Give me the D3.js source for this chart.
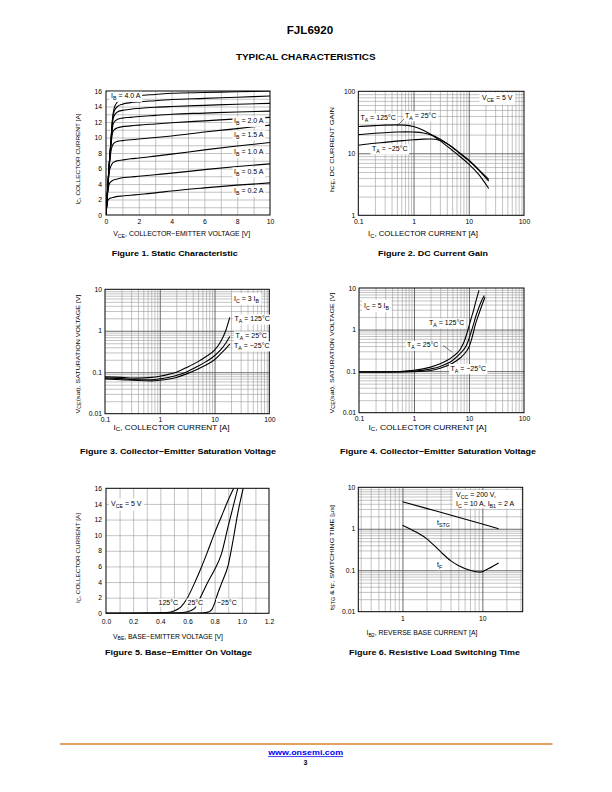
<!DOCTYPE html>
<html><head><meta charset="utf-8">
<script src="https://cdn.jsdelivr.net/npm/d3@7"></script>
<style>body{margin:0;background:#fff}svg{display:block}</style>
</head><body><svg id="c" width="612" height="792"></svg>
<script>
// ---------------- DATA ----------------
// Figure 1 – Static characteristic (IC vs VCE for several IB)
const fig1Vce = [0,0.05,0.1,0.15,0.2,0.3,0.4,0.5,0.7,1,1.5,2,3,4,6,8,10];
const fig1Ib40 = [0,1.6,3.3,5.0,6.6,9.6,12.5,13.8,14.6,15.0,15.25,15.4,15.55,15.7,15.8,15.9,16.0];
const fig1Ib35 = [0,1.6,3.3,5.0,6.6,9.5,12.3,13.4,14.0,14.3,14.5,14.6,14.75,14.9,15.05,15.2,15.35];
const fig1Ib30 = [0,1.6,3.3,5.0,6.6,9.4,12.0,12.8,13.3,13.5,13.65,13.75,13.9,14.0,14.15,14.3,14.4];
const fig1Ib25 = [0,1.6,3.3,5.0,6.6,9.3,11.4,12.0,12.35,12.5,12.6,12.7,12.85,13.0,13.15,13.3,13.4];
const fig1Ib20 = [0,1.6,3.3,5.0,6.6,9.0,10.6,11.0,11.25,11.4,11.5,11.6,11.75,11.9,12.15,12.4,12.6];
const fig1Ib15 = [0,1.6,3.2,4.8,6.2,8.2,9.0,9.3,9.5,9.6,9.7,9.8,10.0,10.2,10.7,11.15,11.6];
const fig1Ib10 = [0,1.6,3.2,4.6,5.6,6.3,6.7,6.85,7.0,7.1,7.25,7.35,7.6,7.85,8.4,8.9,9.35];
const fig1Ib05 = [0,1.5,2.8,3.6,4.0,4.3,4.45,4.55,4.65,4.8,4.9,5.0,5.2,5.4,5.85,6.25,6.6];
const fig1Ib02 = [0,1.2,1.8,2.0,2.1,2.2,2.25,2.3,2.4,2.45,2.55,2.65,2.85,3.1,3.5,3.85,4.15];
const fig1XTicks = [0,2,4,6,8,10];
const fig1YTicks = [0,2,4,6,8,10,12,14,16];

// Figure 2 – DC current gain
const fig2Ic = [0.1,0.2,0.3,0.5,0.7,1,1.5,2,3,5,7,10,15,23];
const fig2H125 = [27,28,28.5,28.7,28.5,27,23.5,20.5,16,11.2,8.8,6.7,4.6,2.7];
const fig2H25  = [20,21,21.5,22,22.2,22,21.3,20,17,12.5,9.8,7.6,5.4,3.55];
const fig2Hm25 = [13.5,14.5,15,15.7,16.1,16.5,16.9,17,16.2,12.7,10,7.8,5.5,3.8];
const fig2XTicks = [0.1,1,10,100];
const fig2YTicks = [1,10,100];

// Figure 3 – VCE(sat), IC = 3 IB
const fig3Ic = [0.1,0.2,0.4,0.7,1,1.5,2,3,5,7,10,13,16,19];
const fig3V125 = [0.078,0.075,0.072,0.075,0.08,0.09,0.1,0.128,0.18,0.24,0.34,0.55,1.0,2.1];
const fig3V25  = [0.073,0.07,0.066,0.066,0.069,0.076,0.083,0.1,0.14,0.18,0.25,0.35,0.5,0.73];
const fig3Vm25 = [0.069,0.066,0.063,0.062,0.064,0.069,0.075,0.09,0.12,0.15,0.2,0.28,0.37,0.48];
const satXTicks = [0.1,1,10,100];
const satYTicks = [0.01,0.1,1,10];

// Figure 4 – VCE(sat), IC = 5 IB
const fig4Ic125 = [0.1,0.3,1,2,3,5,7,8,9,10,11,12,13,15.2];
const fig4V125  = [0.095,0.095,0.105,0.125,0.15,0.22,0.34,0.48,0.75,1.2,1.9,2.8,4.2,8.8];
const fig4Ic25  = [0.1,0.3,1,2,3,5,7,9,10,11,12,13,15,17,19];
const fig4V25   = [0.095,0.095,0.1,0.113,0.13,0.18,0.27,0.42,0.6,0.9,1.3,1.9,3.3,5.0,6.6];
const fig4Icm25 = [0.1,0.3,1,2,3,5,7,9,10,11,12,13,15,17,19.5];
const fig4Vm25  = [0.095,0.095,0.097,0.104,0.117,0.155,0.21,0.3,0.38,0.55,0.85,1.3,2.3,3.7,6.0];

// Figure 5 – Base-emitter on voltage
const fig5Vbe125 = [0,0.3,0.4,0.45,0.5,0.55,0.6,0.65,0.7,0.75,0.8,0.85,0.9,0.94];
const fig5Ic125  = [0,0.02,0.05,0.1,0.3,0.8,2.0,3.8,5.8,8,10.3,12.4,14.5,16];
const fig5Vbe25  = [0,0.4,0.55,0.6,0.65,0.7,0.75,0.8,0.85,0.9,0.95,0.97];
const fig5Ic25   = [0,0.02,0.08,0.2,0.6,2.2,4,5.6,7.6,11.2,14.6,16];
const fig5Vbem25 = [0,0.6,0.72,0.76,0.78,0.8,0.82,0.85,0.9,0.94,0.97,1.01];
const fig5Icm25  = [0,0.02,0.08,0.2,0.5,1.3,2.4,3.8,6.2,9.8,12.8,16];
const fig5XTicks = [0,0.2,0.4,0.6,0.8,1.0,1.2];
const fig5YTicks = [0,2,4,6,8,10,12,14,16];

// Figure 6 – Resistive load switching time
const fig6IbStg = [1,2,3,5,10,16];
const fig6Tstg  = [4.5,3.1,2.5,1.9,1.3,1.0];
const fig6IbF   = [1,1.5,2,3,4,5,7,9.5,12,16];
const fig6Tf    = [1.22,0.82,0.58,0.28,0.17,0.13,0.1,0.09,0.11,0.15];
const fig6XTicks = [1,10];
const fig6YTicks = [0.01,0.1,1,10];

// ---------------- DRAWING ----------------
const FF = '"Liberation Sans", Arial, Helvetica, sans-serif';
const svg = d3.select('#c');
const GRID = '#9a9a9a', MAJOR = '#5a5a5a';
const LBL = 7;

function rich(parent, x, y, parts, o) {
  const size = o.size || 6;
  const t = parent.append('text').attr('x', x).attr('y', y)
    .attr('font-size', size).attr('font-family', FF)
    .attr('text-anchor', o.anchor || 'start').attr('fill', o.fill || '#000');
  if (o.bold) t.attr('font-weight', 'bold');
  if (o.rotate) t.attr('transform', `rotate(-90,${x},${y})`);
  if (o.len) t.attr('textLength', o.len).attr('lengthAdjust', 'spacingAndGlyphs');
  let down = false;
  parts.forEach(p => {
    if (typeof p === 'string') {
      const s = t.append('tspan').text(p);
      if (down) { s.attr('dy', -size * 0.3); down = false; }
    } else {
      t.append('tspan').text(p.s).attr('font-size', size * 0.75).attr('dy', size * 0.3);
      down = true;
    }
  });
  return t;
}
function label(parent, x, y, parts, o) {
  const g = parent.append('g');
  const t = rich(g, x, y, parts, o);
  const b = t.node().getBBox();
  const px = o.padX !== undefined ? o.padX : 1.5, py = o.padY !== undefined ? o.padY : 0.5;
  g.insert('rect', 'text').attr('x', b.x - px).attr('y', b.y - py)
    .attr('width', b.width + 2 * px).attr('height', b.height + 2 * py).attr('fill', '#fff');
  return g;
}
function logMinor(lo, hi) {
  const out = [];
  for (let e = Math.floor(Math.log10(lo)); e <= Math.ceil(Math.log10(hi)); e++)
    for (let m = 2; m <= 9; m++) { const v = m * Math.pow(10, e); if (v > lo * 1.0001 && v < hi * 0.9999) out.push(v); }
  return out;
}
function logMajor(lo, hi) {
  const out = [];
  for (let e = Math.ceil(Math.log10(lo) - 1e-9); e <= Math.floor(Math.log10(hi) + 1e-9); e++) {
    const v = Math.pow(10, e); if (v > lo * 1.0001 && v < hi * 0.9999) out.push(v);
  }
  return out;
}
let clipN = 0;
function chart(c) {
  const g = svg.append('g');
  const x = c.x, y = c.y;
  const [L, R] = x.range(), [B, T] = y.range();
  const grid = (vals, col, w, vertical) => {
    if (!vals.length) return;
    const ax = vertical
      ? d3.axisBottom(x).tickValues(vals).tickSize(-(B - T)).tickFormat('')
      : d3.axisLeft(y).tickValues(vals).tickSize(-(R - L)).tickFormat('');
    const gg = g.append('g').attr('transform', vertical ? `translate(0,${B})` : `translate(${L},0)`).call(ax);
    gg.select('.domain').remove();
    gg.selectAll('line').attr('stroke', col).attr('stroke-width', w);
  };
  grid(c.xMinor, GRID, 0.6, true);
  grid(c.yMinor, GRID, 0.6, false);
  grid(c.xMajor || [], MAJOR, 0.9, true);
  grid(c.yMajor || [], MAJOR, 0.9, false);
  g.append('rect').attr('x', L).attr('y', T).attr('width', R - L).attr('height', B - T)
    .attr('fill', 'none').attr('stroke', '#000').attr('stroke-width', 1);
  const axx = g.append('g').attr('transform', `translate(0,${B})`)
    .call(d3.axisBottom(x).tickValues(c.xTicks).tickSize(0).tickPadding(c.xPad).tickFormat(c.xFmt));
  const axy = g.append('g').attr('transform', `translate(${L},0)`)
    .call(d3.axisLeft(y).tickValues(c.yTicks).tickSize(0).tickPadding(c.yPad).tickFormat(c.yFmt));
  [axx, axy].forEach(a => {
    a.select('.domain').remove();
    a.selectAll('text').attr('font-size', 6.8).attr('font-family', FF).attr('fill', '#000');
  });
  const id = 'clip' + (clipN++);
  g.append('clipPath').attr('id', id).append('rect').attr('x', L).attr('y', T).attr('width', R - L).attr('height', B - T);
  const line = d3.line().x(d => x(d[0])).y(d => y(d[1])).curve(d3.curveMonotoneX);
  c.series.forEach(s => {
    g.append('path').datum(d3.zip(s[0], s[1])).attr('clip-path', `url(#${id})`)
      .attr('d', line).attr('fill', 'none').attr('stroke', '#000').attr('stroke-width', 1.1);
  });
  rich(g, c.xt[0], c.xt[1], c.xTitle, { size: 6.6, anchor: 'middle', len: c.xt[2] });
  rich(g, c.yt[0], c.yt[1], c.yTitle, { size: 6.2, anchor: 'middle', rotate: true, len: c.yt[2] });
  return g;
}
const fmtG = d => String(d);
const fmt1 = d => d.toFixed(1);

// Figure 1
{
  const x = d3.scaleLinear().domain([0, 10]).range([106, 270]);
  const y = d3.scaleLinear().domain([0, 16]).range([215, 91]);
  const g = chart({
    x, y, xMinor: d3.range(1, 10), yMinor: d3.range(1, 16),
    xTicks: fig1XTicks, yTicks: fig1YTicks, xPad: 4, yPad: 4, xFmt: fmtG, yFmt: fmtG,
    series: [fig1Ib40, fig1Ib35, fig1Ib30, fig1Ib25, fig1Ib20, fig1Ib15, fig1Ib10, fig1Ib05, fig1Ib02].map(s => [fig1Vce, s]),
    xTitle: ['V', { s: 'CE' }, ', COLLECTOR−EMITTER VOLTAGE [V]'], xt: [181.7, 236, 137],
    yTitle: ['I', { s: 'C' }, ', COLLECTOR CURRENT [A]'], yt: [79.5, 159, 91]
  });
  label(g, 111, 98.3, ['I', { s: 'B' }, ' = 4.0 A'], { size: LBL });
  label(g, 234, 123.3, ['I', { s: 'B' }, ' = 2.0 A'], { size: LBL });
  label(g, 234, 136.8, ['I', { s: 'B' }, ' = 1.5 A'], { size: LBL });
  label(g, 234, 154, ['I', { s: 'B' }, ' = 1.0 A'], { size: LBL });
  label(g, 234, 174, ['I', { s: 'B' }, ' = 0.5 A'], { size: LBL });
  label(g, 234, 193.3, ['I', { s: 'B' }, ' = 0.2 A'], { size: LBL });
}
// Figure 2
{
  const x = d3.scaleLog().domain([0.1, 100]).range([358.3, 524]);
  const y = d3.scaleLog().domain([1, 100]).range([215.3, 91.3]);
  const g = chart({
    x, y, xMinor: logMinor(0.1, 100), yMinor: logMinor(1, 100), xMajor: logMajor(0.1, 100), yMajor: logMajor(1, 100),
    xTicks: fig2XTicks, yTicks: fig2YTicks, xPad: 4, yPad: 3, xFmt: fmtG, yFmt: fmtG,
    series: [[fig2Ic, fig2H125], [fig2Ic, fig2H25], [fig2Ic, fig2Hm25]],
    xTitle: ['I', { s: 'C' }, ', COLLECTOR CURRENT [A]'], xt: [423, 236, 110],
    yTitle: ['h', { s: 'FE' }, ', DC CURRENT GAIN'], yt: [333.5, 149.5, 85]
  });
  label(g, 482, 100.3, ['V', { s: 'CE' }, ' = 5 V'], { size: LBL, padX: 2.5, padY: 1.5 });
  label(g, 360.5, 120, ['T', { s: 'A' }, ' = 125°C'], { size: LBL });
  label(g, 405, 117.8, ['T', { s: 'A' }, ' = 25°C'], { size: LBL });
  label(g, 372, 151, ['T', { s: 'A' }, ' = −25°C'], { size: LBL });
  g.append('line').attr('x1', 404).attr('y1', 119).attr('x2', 397).attr('y2', 126).attr('stroke', '#000').attr('stroke-width', 0.5);
}
// Figure 3
{
  const x = d3.scaleLog().domain([0.1, 100]).range([105, 269.3]);
  const y = d3.scaleLog().domain([0.01, 10]).range([413.7, 289.3]);
  const g = chart({
    x, y, xMinor: logMinor(0.1, 100), yMinor: logMinor(0.01, 10), xMajor: logMajor(0.1, 100), yMajor: logMajor(0.01, 10),
    xTicks: satXTicks, yTicks: satYTicks, xPad: 3, yPad: 3, xFmt: fmtG, yFmt: fmtG,
    series: [[fig3Ic, fig3V125], [fig3Ic, fig3V25], [fig3Ic, fig3Vm25]],
    xTitle: ['I', { s: 'C' }, ', COLLECTOR CURRENT [A]'], xt: [171.5, 429.5, 116],
    yTitle: ['V', { s: 'CE' }, '(sat), SATURATION VOLTAGE [V]'], yt: [79.5, 354, 119]
  });
  label(g, 234, 300.5, ['I', { s: 'C' }, ' = 3 I', { s: 'B' }], { size: LBL, padX: 2, padY: 1.5 });
  label(g, 234.5, 321, ['T', { s: 'A' }, ' = 125°C'], { size: LBL });
  label(g, 235.5, 337.8, ['T', { s: 'A' }, ' = 25°C'], { size: LBL });
  label(g, 234, 347.8, ['T', { s: 'A' }, ' = −25°C'], { size: LBL });
}
// Figure 4
{
  const x = d3.scaleLog().domain([0.1, 100]).range([359, 524]);
  const y = d3.scaleLog().domain([0.01, 10]).range([412.7, 288]);
  const g = chart({
    x, y, xMinor: logMinor(0.1, 100), yMinor: logMinor(0.01, 10), xMajor: logMajor(0.1, 100), yMajor: logMajor(0.01, 10),
    xTicks: satXTicks, yTicks: satYTicks, xPad: 3, yPad: 3, xFmt: fmtG, yFmt: fmtG,
    series: [[fig4Ic125, fig4V125], [fig4Ic25, fig4V25], [fig4Icm25, fig4Vm25]],
    xTitle: ['I', { s: 'C' }, ', COLLECTOR CURRENT [A]'], xt: [427.5, 429.5, 118],
    yTitle: ['V', { s: 'CE' }, '(sat), SATURATION VOLTAGE [V]'], yt: [333.5, 353, 121]
  });
  label(g, 364, 307.5, ['I', { s: 'C' }, ' = 5 I', { s: 'B' }], { size: LBL, padX: 2, padY: 1.5 });
  label(g, 429, 325, ['T', { s: 'A' }, ' = 125°C'], { size: LBL });
  label(g, 407, 347.3, ['T', { s: 'A' }, ' = 25°C'], { size: LBL });
  label(g, 450.5, 370.5, ['T', { s: 'A' }, ' = −25°C'], { size: LBL });
  g.append('line').attr('x1', 443).attr('y1', 345.5).attr('x2', 452).attr('y2', 352).attr('stroke', '#000').attr('stroke-width', 0.5);
}
// Figure 5
{
  const x = d3.scaleLinear().domain([0, 1.2]).range([106, 269]);
  const y = d3.scaleLinear().domain([0, 16]).range([613.3, 488.3]);
  const g = chart({
    x, y, xMinor: d3.range(1, 12).map(d => d / 10), yMinor: d3.range(2, 16, 2),
    xTicks: fig5XTicks, yTicks: fig5YTicks, xPad: 6, yPad: 4, xFmt: fmt1, yFmt: fmtG,
    series: [[fig5Vbe125, fig5Ic125], [fig5Vbe25, fig5Ic25], [fig5Vbem25, fig5Icm25]],
    xTitle: ['V', { s: 'BE' }, ', BASE−EMITTER VOLTAGE [V]'], xt: [168, 638.5, 110],
    yTitle: ['I', { s: 'C' }, ', COLLECTOR CURRENT [A]'], yt: [79.5, 558, 90]
  });
  label(g, 111, 506, ['V', { s: 'CE' }, ' = 5 V'], { size: LBL, padX: 2, padY: 1.5 });
  label(g, 158.5, 605, ['125°C'], { size: LBL, padX: 1 });
  label(g, 187.5, 605, ['25°C'], { size: LBL, padX: 1 });
  label(g, 217, 605, ['−25°C'], { size: LBL, padX: 1 });
}
// Figure 6
{
  const x = d3.scaleLog().domain([0.28, 32]).range([358.3, 522.7]);
  const y = d3.scaleLog().domain([0.01, 10]).range([611.7, 487.3]);
  const g = chart({
    x, y, xMinor: logMinor(0.28, 32), yMinor: logMinor(0.01, 10), xMajor: logMajor(0.28, 32), yMajor: logMajor(0.01, 10),
    xTicks: fig6XTicks, yTicks: fig6YTicks, xPad: 4, yPad: 3, xFmt: fmtG, yFmt: fmtG,
    series: [[fig6IbStg, fig6Tstg], [fig6IbF, fig6Tf]],
    xTitle: ['I', { s: 'B2' }, ', REVERSE BASE CURRENT [A]'], xt: [422, 635, 111],
    yTitle: ['t', { s: 'STG' }, ' & t', { s: 'F' }, ', SWITCHING TIME [μs]'], yt: [333.5, 557.5, 105]
  });
  const lg = g.append('g');
  rich(lg, 456, 496.5, ['V', { s: 'CC' }, ' = 200 V,'], { size: LBL });
  rich(lg, 456, 505.8, ['I', { s: 'C' }, ' = 10 A, I', { s: 'B1' }, ' = 2 A'], { size: LBL });
  lg.insert('rect', 'text').attr('x', 453).attr('y', 490).attr('width', 68.5).attr('height', 18.5).attr('fill', '#fff');
  label(g, 437, 524.5, ['t', { s: 'STG' }], { size: LBL });
  label(g, 437, 566.5, ['t', { s: 'F' }], { size: LBL });
}

// Captions and page text
const cap = (x, y, s, len) => rich(svg, x, y, [s], { size: 7.5, bold: true, anchor: 'middle', len });
cap(174.7, 255.8, 'Figure 1. Static Characteristic', 126);
cap(433, 255.8, 'Figure 2. DC Current Gain', 110);
cap(178, 453.5, 'Figure 3. Collector−Emitter Saturation Voltage', 196);
cap(438, 453.5, 'Figure 4. Collector−Emitter Saturation Voltage', 196);
cap(178.5, 654.5, 'Figure 5. Base−Emitter On Voltage', 147);
cap(434.5, 654.5, 'Figure 6. Resistive Load Switching Time', 171);

rich(svg, 310, 33.5, ['FJL6920'], { size: 11, bold: true, anchor: 'middle', len: 46.5 });
rich(svg, 305.8, 60.3, ['TYPICAL CHARACTERISTICS'], { size: 8.5, bold: true, anchor: 'middle', len: 139.7 });

svg.append('line').attr('x1', 60).attr('x2', 552.5).attr('y1', 744).attr('y2', 744)
  .attr('stroke', '#D9822F').attr('stroke-width', 1.6);
const url = rich(svg, 305.7, 755.3, ['www.onsemi.com'], { size: 7.5, bold: true, anchor: 'middle', fill: '#0000EE', len: 75 });
url.attr('text-decoration', 'underline');
rich(svg, 305.5, 765, ['3'], { size: 7, bold: true, anchor: 'middle' });
</script></body></html>
